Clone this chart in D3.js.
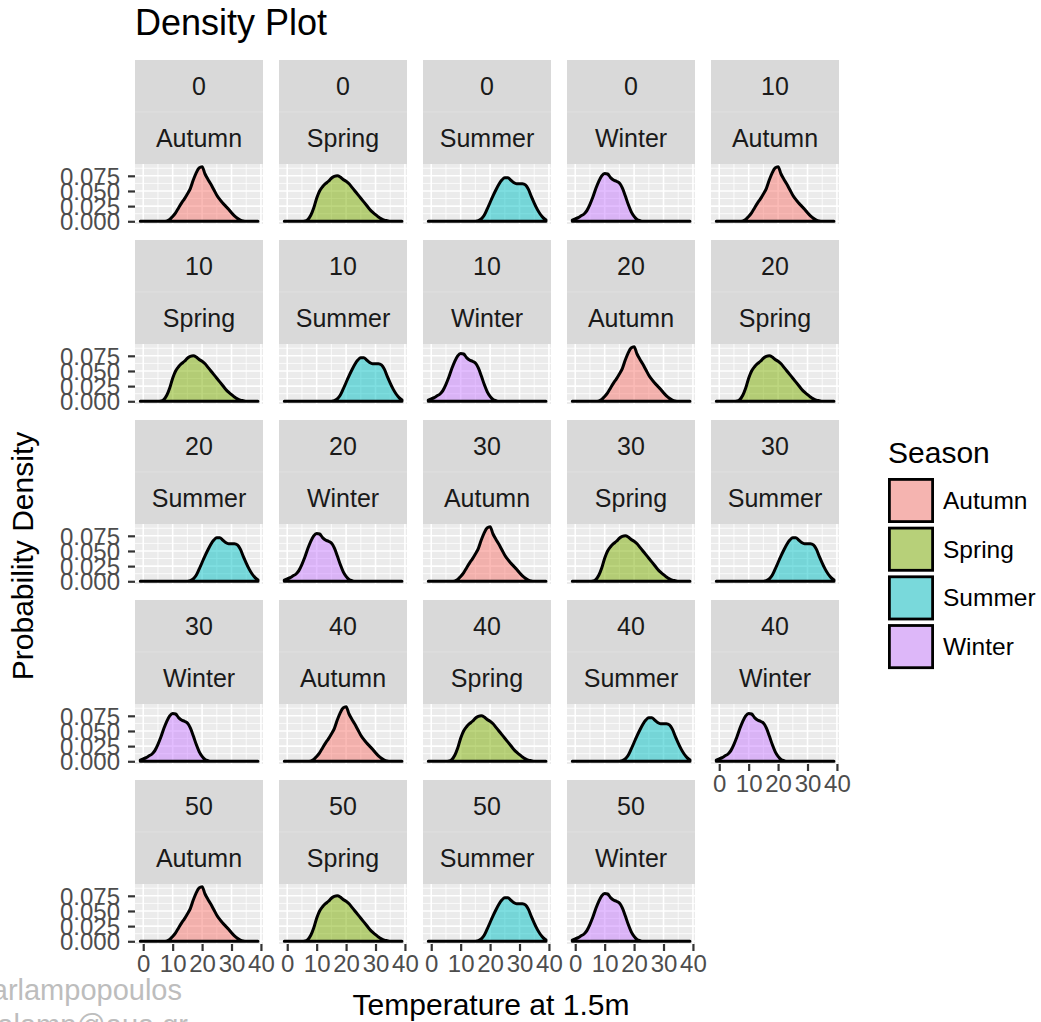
<!DOCTYPE html>
<html>
<head>
<meta charset="utf-8">
<script src="https://cdn.jsdelivr.net/npm/d3@7"></script>
<style>
  body { margin: 0; background: #fff; }
  svg { display: block; font-family: "Liberation Sans", Arial, Helvetica, sans-serif; }
</style>
</head>
<body>
<svg id="chart" width="1041" height="1022"></svg>
<script>
(function () {
  'use strict';

  // facets, in the order ggplot wraps them
  const depths = [0, 10, 20, 30, 40, 50];
  const seasons = ["Autumn", "Spring", "Summer", "Winter"];
  const colors = ["#F8766D", "#7CAE00", "#00BFC4", "#C77CFF"];

  // temperature grid (deg C) the densities are read on
  const temps = [-1, 0, 1, 2, 3, 4, 5, 6, 7, 8, 9, 10, 11, 12, 13, 14, 15, 16, 17, 18, 19,
    20, 21, 22, 23, 24, 25, 26, 27, 28, 29, 30, 31, 32, 33, 34, 35, 36, 37, 38, 39];

  // density per season (same shape at every depth)
  const autumn = [0, 0, 0, 0, 0, 0, 0, 0, 0, 0.0005, 0.003, 0.008, 0.014, 0.022, 0.030, 0.037, 0.045, 0.054, 0.068, 0.080, 0.088,
    0.090, 0.078, 0.069, 0.061, 0.052, 0.043, 0.036, 0.030, 0.025, 0.020, 0.014, 0.009, 0.005, 0.002, 0.0005, 0, 0, 0, 0, 0];
  const spring = [0, 0, 0, 0, 0, 0, 0, 0.0005, 0.003, 0.010, 0.022, 0.038, 0.050, 0.057, 0.062, 0.066, 0.071, 0.074, 0.075, 0.073, 0.069,
    0.066, 0.062, 0.056, 0.050, 0.044, 0.038, 0.032, 0.026, 0.020, 0.015, 0.011, 0.007, 0.004, 0.002, 0.001, 0, 0, 0, 0, 0];
  const summer = [0, 0, 0, 0, 0, 0, 0, 0, 0, 0, 0, 0, 0, 0, 0, 0, 0, 0.001, 0.004, 0.010, 0.020,
    0.031, 0.042, 0.052, 0.061, 0.068, 0.072, 0.072, 0.068, 0.064, 0.062, 0.062, 0.062, 0.060, 0.053, 0.041, 0.030, 0.020, 0.012, 0.006, 0.002];
  const winter = [0.002, 0.004, 0.006, 0.009, 0.012, 0.018, 0.028, 0.040, 0.054, 0.066, 0.075, 0.079, 0.078, 0.072, 0.068, 0.066, 0.063, 0.055, 0.042, 0.028, 0.016,
    0.008, 0.003, 0.001, 0, 0, 0, 0, 0, 0, 0, 0, 0, 0, 0, 0, 0, 0, 0, 0, 0];
  const densities = [autumn, spring, summer, winter];

  const xTicks = [0, 10, 20, 30, 40];
  const xMinor = [5, 15, 25, 35];
  const yTicks = [0, 0.025, 0.05, 0.075];
  const yMinor = [0.0125, 0.0375, 0.0625, 0.0875];

  const svg = d3.select("#chart");
  const font = "\"Liberation Sans\", Arial, Helvetica, sans-serif";

  const left = 135, top = 60;
  const panelW = 128, stripH = 52, panelH = 60;
  const colStep = 144, rowStep = 180, nCol = 5;

  const x = d3.scaleLinear().domain([-2.8, 40.7]).range([0, panelW]);
  const y = d3.scaleLinear().domain([-0.0045, 0.0945]).range([panelH, 0]);

  const facets = [];
  depths.forEach(dep => seasons.forEach((s, si) => facets.push({ depth: dep, season: s, si: si })));

  const area = d3.area()
    .x((d, i) => x(temps[i]))
    .y0(y(0))
    .y1(d => y(d))
    .curve(d3.curveMonotoneX);

  facets.forEach((f, i) => {
    const row = Math.floor(i / nCol), col = i % nCol;
    const gx = left + col * colStep, gy = top + row * rowStep;
    const g = svg.append("g").attr("transform", `translate(${gx},${gy})`);

    // two stacked strips
    [String(f.depth), f.season].forEach((label, k) => {
      g.append("rect")
        .attr("x", 0).attr("y", k * stripH)
        .attr("width", panelW).attr("height", stripH)
        .attr("fill", "#D9D9D9");
      g.append("text")
        .attr("x", panelW / 2).attr("y", k * stripH + stripH / 2 + 9)
        .attr("text-anchor", "middle")
        .attr("font-size", 25)
        .attr("fill", "#1A1A1A")
        .text(label);
    });
    g.append("line")
      .attr("x1", 0).attr("x2", panelW)
      .attr("y1", stripH).attr("y2", stripH)
      .attr("stroke", "#E2E2E2").attr("stroke-width", 0.8);

    const p = g.append("g").attr("transform", `translate(0,${2 * stripH})`);
    p.append("rect")
      .attr("width", panelW).attr("height", panelH)
      .attr("fill", "#EBEBEB");

    // grid
    p.selectAll(".vmin").data(xMinor).enter().append("line")
      .attr("x1", d => x(d)).attr("x2", d => x(d))
      .attr("y1", 0).attr("y2", panelH)
      .attr("stroke", "#fff").attr("stroke-width", 0.8);
    p.selectAll(".hmin").data(yMinor).enter().append("line")
      .attr("x1", 0).attr("x2", panelW)
      .attr("y1", d => y(d)).attr("y2", d => y(d))
      .attr("stroke", "#fff").attr("stroke-width", 0.8);
    p.selectAll(".vmaj").data(xTicks).enter().append("line")
      .attr("x1", d => x(d)).attr("x2", d => x(d))
      .attr("y1", 0).attr("y2", panelH)
      .attr("stroke", "#fff").attr("stroke-width", 1.6);
    p.selectAll(".hmaj").data(yTicks).enter().append("line")
      .attr("x1", 0).attr("x2", panelW)
      .attr("y1", d => y(d)).attr("y2", d => y(d))
      .attr("stroke", "#fff").attr("stroke-width", 1.6);

    // density
    const dens = densities[f.si];
    p.append("path")
      .datum(dens)
      .attr("d", area)
      .attr("fill", colors[f.si])
      .attr("fill-opacity", 0.5)
      .attr("stroke", "none");
    p.append("path")
      .datum(dens)
      .attr("d", area)
      .attr("fill", "none")
      .attr("stroke", "#000")
      .attr("stroke-width", 3)
      .attr("stroke-linejoin", "round");

    // y axis on first column
    if (col === 0) {
      const ya = p.append("g")
        .call(d3.axisLeft(y).tickValues(yTicks).tickFormat(d3.format(".3f")).tickSize(7).tickPadding(8));
      ya.select(".domain").remove();
      ya.selectAll(".tick line").attr("stroke", "#333").attr("stroke-width", 2.2);
      ya.selectAll(".tick text").attr("font-size", 24).attr("fill", "#4D4D4D")
        .attr("font-family", font).attr("dy", "0.36em");
    }

    // x axis under the last panel of each column
    if (i + nCol >= facets.length) {
      const xa = p.append("g")
        .attr("transform", `translate(0,${panelH})`)
        .call(d3.axisBottom(x).tickValues(xTicks).tickSize(7).tickPadding(4));
      xa.select(".domain").remove();
      xa.selectAll(".tick line").attr("stroke", "#333").attr("stroke-width", 2.2);
      xa.selectAll(".tick text").attr("font-size", 24).attr("fill", "#4D4D4D")
        .attr("font-family", font);
    }
  });

  // title
  svg.append("text")
    .attr("x", 135).attr("y", 35)
    .attr("font-size", 36)
    .attr("fill", "#000")
    .text("Density Plot");

  // axis titles
  svg.append("text")
    .attr("x", 491).attr("y", 1015)
    .attr("text-anchor", "middle")
    .attr("font-size", 30)
    .text("Temperature at 1.5m");
  svg.append("text")
    .attr("transform", "translate(33,556) rotate(-90)")
    .attr("text-anchor", "middle")
    .attr("font-size", 30)
    .text("Probability Density");

  // legend
  const lg = svg.append("g").attr("transform", "translate(888,442)");
  lg.append("text")
    .attr("x", 0).attr("y", 21)
    .attr("font-size", 30)
    .text("Season");
  seasons.forEach((s, k) => {
    const ky = 36 + k * 48.7;
    lg.append("rect")
      .attr("x", 0).attr("y", ky).attr("width", 46).attr("height", 45)
      .attr("fill", "#F2F2F2");
    lg.append("rect")
      .attr("x", 1.4).attr("y", ky + 1.4).attr("width", 43.2).attr("height", 42.2)
      .attr("fill", colors[k]).attr("fill-opacity", 0.5)
      .attr("stroke", "#000").attr("stroke-width", 2.8);
    lg.append("text")
      .attr("x", 55).attr("y", ky + 22.5)
      .attr("dy", "0.35em")
      .attr("font-size", 24.5)
      .text(s);
  });

  // watermark, cut by the edge as in the source
  svg.append("text")
    .attr("x", 182).attr("y", 1000)
    .attr("text-anchor", "end")
    .attr("font-size", 29)
    .attr("fill", "#BDBDBD")
    .text("I. Charlampopoulos");
  svg.append("text")
    .attr("x", 188).attr("y", 1035)
    .attr("text-anchor", "end")
    .attr("font-size", 29)
    .attr("fill", "#BDBDBD")
    .text("icharalamp@aua.gr");
})();
</script>
</body>
</html>
